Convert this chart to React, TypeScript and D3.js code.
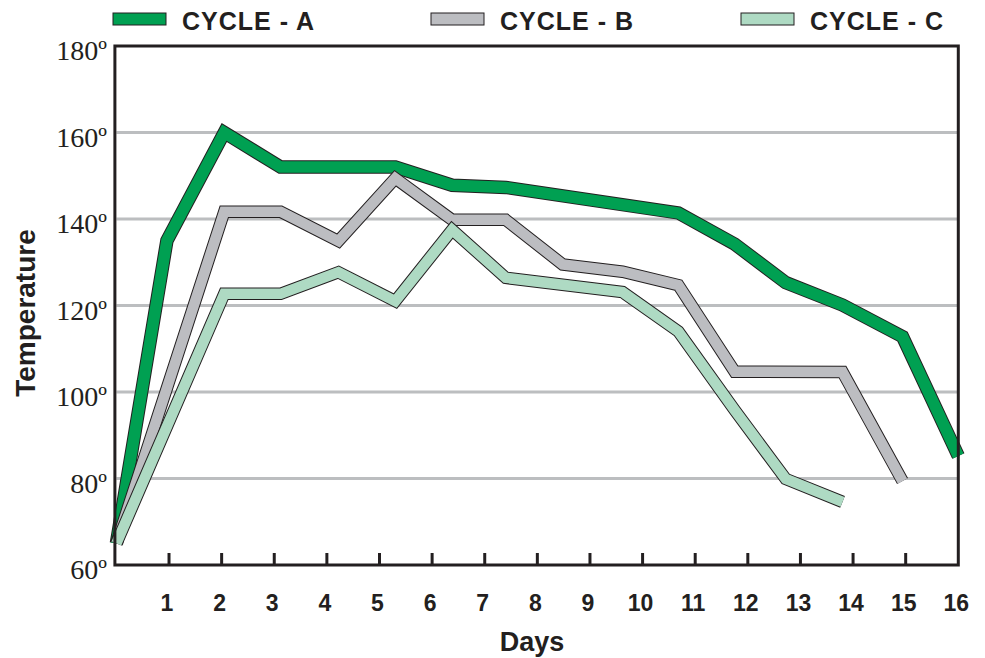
import React from 'react';
import * as d3 from 'd3';

// values
const days = [0, 0.96, 2.05, 3.12, 4.22, 5.3, 6.38, 7.4, 8.48, 9.62, 10.68, 11.75, 12.72, 13.8, 14.94, 16];
const cycleA = [65, 135, 160, 152, null, 152, 147.8, 147.3, null, null, 141.4, 134.2, 125.3, 120.1, 112.8, 85.2];
const cycleB = [65, null, 141.7, 141.7, 134.9, 149.4, 139.8, 139.8, 129.5, 127.8, 124.7, 104.7, null, 104.6, 79.4, null];
const cycleC = [65, null, 122.7, 122.7, 127.7, 121, 137.5, 126.4, null, 123.1, 114, 95.8, 79.9, 74.6, null, null];

const dayTicks = [1, 2, 3, 4, 5, 6, 7, 8, 9, 10, 11, 12, 13, 14, 15];
const dayLabels = [1, 2, 3, 4, 5, 6, 7, 8, 9, 10, 11, 12, 13, 14, 15, 16];
const tempLabels = [60, 80, 100, 120, 140, 160, 180];
const gridTemps = [80, 100, 120, 140, 160];

const seriesNames = ['CYCLE - A', 'CYCLE - B', 'CYCLE - C'];
const seriesColors = ['#00A052', '#BCBDC1', '#AEDAC3'];
const seriesWidths = [13.5, 12.5, 12.5];
const seriesValues = [cycleA, cycleB, cycleC];

const W = 985, H = 658;
const ink = '#231F20';

export default function App() {
  const x = d3.scaleLinear().domain([0, 16]).range([116.4, 958.3]);
  const y = d3.scaleLinear().domain([60, 180]).range([565, 46]);

  const line = d3.line<[number, number]>()
    .x(d => x(d[0]))
    .y(d => y(d[1]));

  const paths = seriesValues.map(vals =>
    line(days.map((d, i) => [d, vals[i]] as [number, number | null])
      .filter(p => p[1] != null) as [number, number][]) || ''
  );

  const legendX = [113, 431, 741];

  return (
    <svg width={W} height={H} style={{ position: 'absolute', left: 0, top: 0, display: 'block', background: '#fff' }}>
      {/* grid */}
      {gridTemps.map(t => (
        <line key={t} x1={x(0)} x2={x(16)} y1={y(t)} y2={y(t)} stroke="#BCBEC0" strokeWidth={3} />
      ))}

      {/* series: black outline under coloured band */}
      {paths.map((p, i) => (
        <g key={i}>
          <path d={p} fill="none" stroke={ink} strokeWidth={seriesWidths[i]} strokeLinejoin="miter" strokeMiterlimit={10} />
          <path d={p} fill="none" stroke={seriesColors[i]} strokeWidth={seriesWidths[i] - 2} strokeLinejoin="miter" strokeMiterlimit={10} />
        </g>
      ))}

      {/* frame */}
      <path d={`M${x(0) - 1.5},${y(180)} H${x(16)} V${y(60)} H${x(0) - 1.5} Z`} fill="none" stroke={ink} strokeWidth={3} />
      {dayTicks.map(d => (
        <line key={d} x1={x(d)} x2={x(d)} y1={y(60)} y2={y(60) - 12} stroke={ink} strokeWidth={3} />
      ))}

      {/* x labels */}
      {dayLabels.map(d => (
        <text key={d} x={x(d) - 2} y={611} textAnchor="middle" fontFamily="'Liberation Sans', Arial, sans-serif"
          fontWeight="bold" fontSize={23} fill={ink}>{d}</text>
      ))}
      <text x={532} y={651} textAnchor="middle" fontFamily="'Liberation Sans', Arial, sans-serif"
        fontWeight="bold" fontSize={27} fill={ink}>Days</text>

      {/* y labels */}
      {tempLabels.map(t => (
        <text key={t} x={107} y={y(t) + 14} textAnchor="end" fontFamily="'Liberation Serif', 'Times New Roman', serif"
          fontSize={28} fill={ink}>{t}º</text>
      ))}
      <text transform="translate(35,313) rotate(-90)" textAnchor="middle" fontFamily="'Liberation Sans', Arial, sans-serif"
        fontWeight="bold" fontSize={28} fill={ink}>Temperature</text>

      {/* legend */}
      {seriesNames.map((n, i) => (
        <g key={n}>
          <rect x={legendX[i]} y={13} width={53} height={12} fill={seriesColors[i]} stroke={ink} strokeWidth={1} />
          <text x={legendX[i] + 69} y={30} fontFamily="'Liberation Sans', Arial, sans-serif" fontWeight="bold"
            fontSize={25} letterSpacing={1} fill={ink}>{n}</text>
        </g>
      ))}
    </svg>
  );
}
